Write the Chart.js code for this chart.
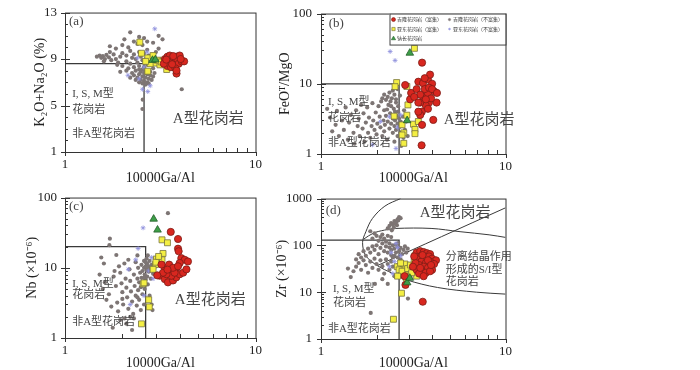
<!DOCTYPE html>
<html lang="zh">
<head>
<meta charset="utf-8">
<title>10000Ga/Al discrimination diagrams</title>
<script src="https://cdn.jsdelivr.net/npm/chart.js@4.4.1/dist/chart.umd.min.js"></script>
<style>
  body { margin: 0; background: #fff; }
  #wrap { position: relative; width: 700px; height: 370px; overflow: hidden; }
  #wrap canvas { position: absolute; }
</style>
</head>
<body>
<div id="wrap">
  <canvas id="chartA" width="270" height="185" style="left:0;top:0"></canvas>
  <canvas id="chartB" width="250" height="185" style="left:270px;top:0"></canvas>
  <canvas id="chartC" width="270" height="185" style="left:0;top:185px"></canvas>
  <canvas id="chartD" width="250" height="185" style="left:270px;top:185px"></canvas>
</div>
<script>
// legend names, same order as the legend box in (b)
const seriesNames = ["吉隆花岗岩（富集）", "吉隆花岗岩（不富集）", "亚东花岗岩（富集）", "亚东花岗岩（不富集）", "钠长花岗岩"];

// tick labels
const xTickValues = [1, 10];
const aYTicks = [1, 5, 9, 13];
const bYTicks = [1, 10, 100];
const cYTicks = [1, 10, 100];
const dYTicks = [1, 10, 100, 1000];

// (a) K2O+Na2O vs 10000Ga/Al
const aJilongRich = [[3.35,9.0],[3.4,8.7],[3.45,9.2],[3.5,8.9],[3.55,8.6],[3.6,9.1],[3.65,8.8],[3.7,8.5],[3.75,9.0],[3.8,8.7],[3.85,9.2],[3.9,8.9],[3.95,8.6],[4.0,9.3],[4.1,8.8],[4.22,8.8],[3.45,8.4],[3.6,8.3],[3.8,8.2],[3.85,7.75],[3.85,8.0],[3.55,9.3],[3.3,8.6],[3.7,9.25],[4.05,9.0],[3.4,8.95],[3.65,8.55]];
const aJilongPoor = [[1.47,9.2],[1.52,9.3],[1.55,9.1],[1.58,9.25],[1.62,9.0],[1.65,9.35],[1.7,9.15],[1.75,8.9],[1.6,8.8],[1.8,9.4],[1.85,9.0],[1.9,8.7],[1.95,9.2],[1.72,9.6],[1.88,8.5],
  [2.2,11.3],[2.05,10.7],[2.3,10.5],[2.45,10.9],[2.6,10.8],[3.25,10.7],[3.1,11.0],[1.72,10.1],[1.85,9.9],[2.0,10.2],[2.15,10.0],[2.4,10.3],[2.55,10.2],[2.7,10.5],[2.9,10.4],
  [2.0,9.5],[2.1,9.3],[2.2,9.7],[2.3,9.4],[2.35,9.0],[2.45,9.6],[2.5,9.2],[2.6,9.5],[2.7,9.8],[2.1,8.8],[2.2,8.6],[2.25,9.1],[2.4,8.7],[2.55,8.9],[2.65,9.0],[2.75,9.3],[2.0,8.4],[2.15,8.2],[2.3,8.3],[2.45,8.1],[2.6,8.3],[1.95,7.9],[2.1,8.0],[2.25,7.8],
  [2.3,7.6],[2.35,8.0],[2.4,7.4],[2.45,7.7],[2.5,7.9],[2.5,7.2],[2.55,7.5],[2.6,7.8],[2.6,7.1],[2.65,7.4],[2.7,7.7],[2.7,7.0],[2.75,7.3],[2.8,7.6],[2.8,7.9],[2.85,7.2],[2.9,7.5],[2.9,8.2],[2.55,6.9],[2.65,6.8],[2.75,6.9],[2.45,8.4],[2.7,8.5],[2.85,8.6],[2.95,7.8],[2.55,8.1],[2.35,7.2],[2.2,7.4],[2.45,7.0],
  [2.56,5.5],[2.55,4.7],[4.1,6.4],[3.0,9.6],[3.1,9.9]];
const aYadongRich = [[2.47,10.45],[2.52,9.5],[2.72,9.1],[2.72,7.95],[2.97,8.65],[3.15,8.5],[3.42,8.1],[3.27,8.9],[2.9,9.3],[2.8,8.6],[3.05,8.9],[3.2,8.75],[2.65,8.8]];
const aYadongPoor = [[2.96,11.6],[2.14,7.6],[2.72,6.2],[2.6,8.3],[2.7,9.6],[2.45,7.3],[2.8,6.7],[2.4,9.1],[2.55,6.4]];
const aAlbite = [[2.88,8.9],[2.98,8.95]];
const aBoundary = [[1,8.6],[2.6,8.6],[2.6,1]];

// (b) FeOT/MgO vs 10000Ga/Al
const bJilongRich = [[3.53,20],[2.86,9.6],[3.04,6.0],[3.08,7.4],[3.37,10.7],[3.57,10.2],[3.8,11.5],[3.9,13.5],[4.0,10],[4.1,7.8],[4.23,5.4],[3.85,5.4],[3.7,4.9],[3.45,5.4],[3.52,4.0],[3.45,3.6],[3.57,6.7],[3.8,7.3],[3.65,8.4],[3.3,8.4],[3.45,7.0],[3.95,6.2],[3.7,6.0],[4.06,3.06],[3.51,1.33],[3.53,2.6],[3.37,4.0],[3.2,6.5],[3.85,8.8],[4.0,8.4],[4.25,7.4],[3.8,4.4],[3.37,5.4],[3.65,12]];
const bJilongPoor = [[1.08,4.4],[1.12,3.3],[1.15,2.1],[1.2,2.6],[1.22,4.1],[1.25,1.8],[1.3,3.0],[1.33,2.2],[1.36,4.6],[1.4,1.6],[1.42,2.8],[1.45,3.6],[1.5,2.0],[1.52,1.4],[1.55,4.2],[1.58,2.5],[1.6,3.2],[1.62,1.8],[1.65,5.0],[1.68,2.3],[1.7,3.8],[1.72,1.5],
  [1.75,2.8],[1.78,4.6],[1.8,2.0],[1.82,3.3],[1.85,1.7],[1.88,2.5],[1.9,5.3],[1.92,3.0],[1.95,2.2],[1.98,3.9],[2.0,1.9],[2.02,2.7],[2.05,4.8],[2.08,3.4],[2.1,2.4],[2.12,5.6],[2.15,1.8],[2.18,3.0],[2.2,4.2],[2.2,2.1],
  [2.22,2.6],[2.25,3.5],[2.28,1.6],[2.3,2.9],[2.32,5.0],[2.35,2.3],[2.37,3.8],[2.4,2.7],[2.42,6.2],[2.45,2.0],[2.45,3.2],[2.48,4.4],[2.5,2.5],[2.5,1.5],[2.52,3.0],[2.55,2.2],[2.55,5.4],[2.57,3.5],[2.6,2.7],[2.6,1.8],[2.62,4.0],[2.65,2.4],[2.65,3.2],[2.68,6.8],[2.7,2.9],[2.7,2.0],[2.3,6.5],[2.2,7.0],[2.35,7.5],[2.45,8.0],[2.5,7.0],[2.55,6.0],[2.6,8.4],[2.38,5.6],[2.25,5.9],[2.15,6.2],[2.4,4.8],[2.28,4.3],[2.52,4.0],[2.62,4.8],
  [2.75,2.5],[2.78,3.4],[2.8,1.7],[2.85,2.2],[2.9,2.9],[2.72,1.3],[2.95,1.8],[2.82,4.2]];
const bYadongRich = [[2.57,10.4],[2.52,9.1],[2.92,9.16],[2.96,5.0],[2.49,3.46],[2.92,3.57],[2.75,2.6],[2.81,2.0],[3.17,2.66],[3.37,2.9],[3.23,2.24],[3.23,1.95],[2.81,1.42],[2.75,1.87],[3.21,32]];
const bYadongPoor = [[2.37,28.8],[2.52,21.5],[2.55,1.2],[2.35,3.4],[2.6,2.4],[2.1,2.9],[2.7,3.6],[1.9,1.35]];
const bAlbite = [[3.03,27.4],[2.93,3.0]];
const bBoundary = [[1,10],[2.65,10],[2.65,1]];

// (c) Nb vs 10000Ga/Al
const cJilongRich = [[3.59,32.4],[3.92,25.7],[3.92,18.7],[3.95,17.2],[4.08,13.7],[4.25,13],[4.0,11.7],[3.84,10],[3.55,9.0],[3.34,10],[3.21,11.1],[3.14,7.7],[3.34,6.9],[3.47,6.2],[3.69,6.6],[3.84,7.3],[4.0,8.1],[4.17,8.5],[3.62,7.7],[3.76,8.5],[3.41,8.1],[3.27,8.5],[3.52,11.1],[3.69,10],[3.92,10.5],[4.34,9.5],[4.42,12.3],[3.45,9.4],[3.05,7.8]];
const cJilongPoor = [[1.52,8.0],[1.55,14],[1.6,11.5],[1.72,26],[1.71,21],[1.86,15.2],[1.62,6.2],[1.58,5.0],[1.65,3.5],[1.7,4.2],[1.75,2.8],[1.78,1.4],[1.8,7.5],[1.85,5.5],[1.88,3.2],[1.9,2.4],[1.95,8.5],[1.98,6.0],[2.0,4.5],[2.02,3.0],[2.05,1.9],[2.08,7.0],[2.1,5.2],[2.12,3.8],[2.15,2.6],[2.18,9.5],[2.2,6.5],[2.22,4.6],[2.25,3.3],[2.25,1.3],[2.28,2.2],[2.3,8.0],[2.32,5.5],[2.35,4.0],[2.35,12],[2.38,2.9],[2.4,7.0],[2.42,10],[2.42,4.8],[2.45,3.5],[2.45,6.2],[2.48,8.5],[2.5,5.3],[2.5,2.5],[2.52,11],[2.52,7.2],[2.55,4.2],[2.55,9.0],[2.58,6.0],[2.6,12.5],[2.6,3.0],[2.62,8.0],[2.62,5.0],[2.65,10.5],[2.65,6.8],[2.68,9.2],[2.68,13.5],[2.7,7.5],[2.7,11.5],[2.72,5.8],[2.72,15],[2.75,8.8],[2.75,10.5],[2.78,12.5],[2.8,9.5],[2.82,7.0],[2.85,11],[2.88,2.5],[2.9,8.2],[2.95,10],[3.47,60],[2.4,15],[1.92,10.5],[2.05,11.5],[1.82,9.0],[2.15,13],[2.3,1.9],[2.1,1.6],[1.95,1.8],[2.4,3.8],[2.55,1.6],[2.78,4.0],[2.85,3.0],[2.0,3.6],[2.2,2.0],[2.6,7.2],[2.65,12],[2.7,10],[2.6,10]];
const cYadongRich = [[3.23,25],[3.45,22.7],[3.27,16],[3.23,13],[3.02,13.3],[2.98,11.1],[2.9,9.5],[2.57,5.9],[2.6,6.1],[2.75,3.5],[2.77,2.77],[2.52,1.59],[3.0,12],[3.1,14.5]];
const cYadongPoor = [[2.57,37],[2.42,18.8],[2.15,9.5],[2.75,9],[2.35,13],[2.85,14],[2.6,4],[2.2,3],[2.9,7]];
const cAlbite = [[2.92,49.5],[3.06,34.6]];
const cBoundary = [[1,20],[2.65,20],[2.65,1]];

// (d) Zr vs 10000Ga/Al
const dJilongRich = [[3.3,70],[3.45,75],[3.6,72],[3.75,68],[3.9,65],[3.5,60],[3.65,55],[3.85,58],[4.0,52],[4.2,48],[3.35,50],[3.5,45],[3.7,42],[3.9,45],[4.1,40],[3.4,38],[3.6,35],[3.8,33],[4.0,30],[3.3,30],[3.5,28],[3.7,26],[3.9,28],[3.25,42],[3.4,25],[3.6,22],[3.55,62],[3.8,48],[2.84,22],[2.87,14.3],[3.56,6.25],[3.2,58],[3.95,38],[3.15,35],[3.45,33]];
const dJilongPoor = [[2.3,230],[2.35,260],[2.4,300],[2.45,280],[2.5,330],[2.55,310],[2.6,360],[2.65,400],[2.7,380],[2.58,270],[2.48,240],[2.42,210],[2.62,340],[2.52,290],
  [1.85,200],[1.95,180],[2.0,160],[2.1,150],[2.15,170],[2.2,140],[1.9,140],[2.05,125],[2.25,120],[2.3,160],[2.4,150],[2.35,110],
  [1.6,65],[1.65,55],[1.7,75],[1.75,60],[1.8,85],[1.85,70],[1.9,95],[1.95,80],[2.0,100],[2.05,65],[2.1,88],[2.15,110],[2.2,75],[2.25,95],[2.3,70],[2.35,90],[2.4,80],[2.45,100],[2.5,85],[2.55,70],[2.6,95],[2.65,75],[2.7,88],[2.75,65],[2.8,80],[2.85,95],[2.9,70],[2.95,85],[2.5,60],[2.45,55],[2.6,55],[2.7,50],[2.4,62],[2.55,105],[2.62,112],
  [1.45,21],[1.5,28],[1.55,35],[1.6,42],[1.65,30],[1.7,48],[1.75,38],[1.8,26],[1.85,45],[1.9,33],[1.95,52],[2.0,40],[2.05,30],[2.1,48],[2.15,36],[2.2,25],[2.25,50],[2.3,40],[2.35,30],[2.4,45],[2.45,35],[1.96,15],[2.3,15],[2.15,19],[2.5,22],[2.6,38],[2.7,30],[2.8,42],[2.9,36],
  [1.86,3.6],[2.96,7.3],[1.55,50],[1.4,32]];
const dYadongRich = [[2.47,2.64],[2.73,9.5],[3.23,60],[2.59,35],[2.81,35],[2.86,25.6],[3.3,22],[2.65,30],[2.75,28],[2.85,40],[2.95,32],[3.05,38],[3.15,30],[2.6,22],[3.0,22],[3.2,45],[2.9,20],[3.1,26],[2.7,42]];
const dYadongPoor = [[2.4,70],[2.5,45],[2.6,90],[2.35,35],[2.7,60],[2.55,110],[2.45,25],[2.65,30]];
const dAlbite = [[2.93,16],[3.03,20]];
const dBoundary = [[1,130],[2.65,130],[2.65,1]];
const dOuterCurve = [[2.7,1000],[2.22,690],[1.9,375],[1.75,195],[1.68,115],[1.75,60],[2.02,37],[2.42,25.6],[2.9,18.4],[4.28,12.6],[6.95,10],[10,9.1]];
const dInnerCurve = [[1.7,135],[1.92,182],[2.21,212],[2.54,230],[3.95,230],[5.67,196],[8.15,168],[10,148]];
const dDiagLine = [[2.02,37],[10,634]];

const serif = '"Liberation Serif", "Noto Sans CJK SC", serif';
const cjk = '"Liberation Serif", "Noto Sans CJK SC", sans-serif';

// marker looks for each series (index matches seriesNames)
const markStyles = [
  { pointStyle: "circle", radius: 3.6, bg: "#d8271f", border: "#7c1d16", bw: 0.8 },
  { pointStyle: "circle", radius: 2.1, bg: "#7d7574", border: "#7d7574", bw: 0 },
  { pointStyle: "rect", radius: 4.2, bg: "#f4ef43", border: "#77733d", bw: 0.8 },
  { pointStyle: "star", radius: 2.4, bg: "#8f90dd", border: "#8f90dd", bw: 0.8 },
  { pointStyle: "triangle", radius: 4.4, bg: "#3d9e48", border: "#245e2a", bw: 0.8 },
];

function xy(list) {
  return list.map(([x, y]) => ({ x: x, y: y }));
}

function pointSet(idx, list) {
  const s = markStyles[idx];
  return {
    label: seriesNames[idx],
    data: xy(list),
    pointStyle: s.pointStyle,
    pointRadius: s.radius,
    pointBackgroundColor: s.bg,
    pointBorderColor: s.border,
    pointBorderWidth: s.bw,
    showLine: false,
  };
}

// straight boundaries use tension 0, the curved field lines a little smoothing
function lineSet(list, width, tension) {
  return {
    label: "",
    data: xy(list),
    showLine: true,
    borderColor: "#3a3a3a",
    borderWidth: width,
    pointRadius: 0,
    fill: false,
    tension: tension,
  };
}

// frame, inward minor ticks and short outward major ticks
const frameTicks = {
  id: "frameTicks",
  afterDatasetsDraw(chart) {
    const { ctx, chartArea: a, scales } = chart;
    const x = scales.x, y = scales.y;
    ctx.save();
    ctx.strokeStyle = "#333";
    ctx.lineWidth = 1;
    ctx.strokeRect(a.left + 0.5, a.top + 0.5, a.right - a.left, a.bottom - a.top);
    ctx.beginPath();
    for (let v = 2; v < 10; v++) {
      const px = Math.round(x.getPixelForValue(v)) + 0.5;
      ctx.moveTo(px, a.bottom);
      ctx.lineTo(px, a.bottom - 4);
    }
    xTickValues.forEach((v) => {
      const px = Math.round(x.getPixelForValue(v)) + 0.5;
      ctx.moveTo(px, a.bottom);
      ctx.lineTo(px, a.bottom + 4);
    });
    if (y.type === "logarithmic") {
      for (let d = y.min; d < y.max; d *= 10) {
        for (let k = 2; k < 10; k++) {
          const py = Math.round(y.getPixelForValue(k * d)) + 0.5;
          ctx.moveTo(a.left, py);
          ctx.lineTo(a.left + 3, py);
        }
      }
    } else {
      for (let v = y.min + 1; v < y.max; v++) {
        const py = Math.round(y.getPixelForValue(v)) + 0.5;
        ctx.moveTo(a.left, py);
        ctx.lineTo(a.left + 3, py);
      }
    }
    y.ticks.forEach((t) => {
      const py = Math.round(y.getPixelForValue(t.value)) + 0.5;
      ctx.moveTo(a.left - 4, py);
      ctx.lineTo(a.left + 5, py);
    });
    ctx.stroke();
    ctx.restore();
  },
};

// text placed at data coordinates
const notes = {
  id: "notes",
  afterDatasetsDraw(chart, args, opts) {
    const { ctx, scales } = chart;
    ctx.save();
    ctx.fillStyle = "#454545";
    ctx.textAlign = "left";
    ctx.textBaseline = "middle";
    (opts.items || []).forEach((n) => {
      ctx.font = n.size + "px " + (n.family || cjk);
      ctx.fillText(n.text, scales.x.getPixelForValue(n.x), scales.y.getPixelForValue(n.y));
    });
    ctx.restore();
  },
};

// legend box in the top right corner of (b)
const boxLegend = {
  id: "boxLegend",
  afterDraw(chart, args, opts) {
    if (!opts.show) return;
    const { ctx, chartArea: a } = chart;
    const w = 116, h = 31;
    const left = a.right - w, top = a.top;
    ctx.save();
    ctx.fillStyle = "#fff";
    ctx.fillRect(left, top, w, h);
    ctx.strokeStyle = "#444";
    ctx.lineWidth = 1;
    ctx.strokeRect(left + 0.5, top + 0.5, w, h);
    const cells = [[0, 4, 6], [1, 60, 6], [2, 4, 15.5], [3, 60, 15.5], [4, 4, 25]];
    cells.forEach(([i, dx, dy]) => {
      const s = markStyles[i];
      const mx = left + dx, my = top + dy;
      ctx.fillStyle = s.bg;
      ctx.strokeStyle = s.border;
      ctx.lineWidth = 0.6;
      Chart.helpers.drawPoint(ctx, { pointStyle: s.pointStyle, radius: s.radius * 0.55, rotation: 0, borderWidth: 0.6 }, mx, my);
      ctx.fillStyle = "#333";
      ctx.font = '5px "Noto Sans CJK SC", sans-serif';
      ctx.textAlign = "left";
      ctx.textBaseline = "middle";
      ctx.fillText(seriesNames[i], mx + 3.5, my);
    });
    ctx.restore();
  },
};

function makeChart(id, p) {
  const datasets = [
    pointSet(4, p.albite),
    pointSet(0, p.jilongRich),
    pointSet(2, p.yadongRich),
    pointSet(3, p.yadongPoor),
    pointSet(1, p.jilongPoor),
    lineSet(p.boundary, 1.3, 0),
  ];
  (p.curves || []).forEach((c) => datasets.push(lineSet(c, 1, 0.35)));

  return new Chart(document.getElementById(id), {
    type: "scatter",
    data: { datasets: datasets },
    options: {
      responsive: false,
      animation: false,
      devicePixelRatio: 1,
      layout: { padding: { top: p.padTop, right: p.padRight, bottom: 0, left: 0 } },
      plugins: {
        legend: { display: false },
        tooltip: { enabled: false },
        notes: { items: p.notes },
        boxLegend: { show: !!p.legend },
      },
      scales: {
        x: {
          type: "logarithmic",
          min: 1,
          max: 10,
          afterBuildTicks: (s) => { s.ticks = xTickValues.map((v) => ({ value: v })); },
          afterFit: (s) => { s.height = p.xHeight; },
          grid: { display: false, drawTicks: false },
          border: { display: false },
          ticks: {
            padding: 8,
            color: "#222",
            maxRotation: 0,
            autoSkip: false,
            font: { family: serif, size: 13, lineHeight: 0.7 },
            callback: (v) => String(v),
          },
          title: {
            display: true,
            text: "10000Ga/Al",
            color: "#222",
            padding: 0,
            font: { family: serif, size: 14, lineHeight: 1 },
          },
        },
        y: {
          type: p.yType,
          min: p.yTicks[0],
          max: p.yTicks[p.yTicks.length - 1],
          afterBuildTicks: (s) => { s.ticks = p.yTicks.map((v) => ({ value: v })); },
          afterFit: (s) => { s.width = p.yWidth; },
          grid: { display: false, drawTicks: false },
          border: { display: false },
          ticks: {
            padding: p.yTickPad,
            color: "#222",
            autoSkip: false,
            font: { family: serif, size: 13, lineHeight: 0.7 },
            callback: (v) => String(v),
          },
          title: {
            display: true,
            text: p.yTitle,
            color: "#222",
            padding: { top: p.yTitlePad, bottom: 0 },
            font: { family: serif, size: 14, lineHeight: 1 },
          },
        },
      },
    },
    plugins: [frameTicks, notes, boxLegend],
  });
}

makeChart("chartA", {
  jilongRich: aJilongRich, jilongPoor: aJilongPoor, yadongRich: aYadongRich, yadongPoor: aYadongPoor, albite: aAlbite,
  boundary: aBoundary,
  yType: "linear", yTicks: aYTicks, yTitle: "K₂O+Na₂O (%)",
  yWidth: 65, yTickPad: 8, yTitlePad: 33, xHeight: 33, padTop: 5, padRight: 14,
  notes: [
    { text: "(a)", x: 1.05, y: 12.2, size: 13, family: serif },
    { text: "I, S, M型", x: 1.09, y: 5.98, size: 11 },
    { text: "花岗岩", x: 1.09, y: 4.6, size: 11 },
    { text: "非A型花岗岩", x: 1.09, y: 2.55, size: 11 },
    { text: "A型花岗岩", x: 3.68, y: 3.86, size: 15 },
  ],
});

makeChart("chartB", {
  jilongRich: bJilongRich, jilongPoor: bJilongPoor, yadongRich: bYadongRich, yadongPoor: bYadongPoor, albite: bAlbite,
  boundary: bBoundary,
  yType: "logarithmic", yTicks: bYTicks, yTitle: "FeOᵀ/MgO",
  yWidth: 51, yTickPad: 9, yTitlePad: 8, xHeight: 31, padTop: 7, padRight: 8,
  legend: true,
  notes: [
    { text: "(b)", x: 1.1, y: 71, size: 13, family: serif },
    { text: "I, S, M型", x: 1.09, y: 5.4, size: 11 },
    { text: "花岗岩", x: 1.09, y: 3.2, size: 11 },
    { text: "非A型花岗岩", x: 1.09, y: 1.41, size: 11 },
    { text: "A型花岗岩", x: 4.62, y: 3.0, size: 15 },
  ],
});

makeChart("chartC", {
  jilongRich: cJilongRich, jilongPoor: cJilongPoor, yadongRich: cYadongRich, yadongPoor: cYadongPoor, albite: cAlbite,
  boundary: cBoundary,
  yType: "logarithmic", yTicks: cYTicks, yTitle: "Nb (×10⁻⁶)",
  yWidth: 65, yTickPad: 8, yTitlePad: 25, xHeight: 32, padTop: 7, padRight: 14,
  notes: [
    { text: "(c)", x: 1.05, y: 74, size: 13, family: serif },
    { text: "I, S, M型", x: 1.09, y: 5.9, size: 11 },
    { text: "花岗岩", x: 1.09, y: 4.1, size: 11 },
    { text: "非A型花岗岩", x: 1.09, y: 1.67, size: 11 },
    { text: "A型花岗岩", x: 3.77, y: 3.5, size: 15 },
  ],
});

makeChart("chartD", {
  jilongRich: dJilongRich, jilongPoor: dJilongPoor, yadongRich: dYadongRich, yadongPoor: dYadongPoor, albite: dAlbite,
  boundary: dBoundary,
  curves: [dOuterCurve, dInnerCurve, dDiagLine],
  yType: "logarithmic", yTicks: dYTicks, yTitle: "Zr (×10⁻⁶)",
  yWidth: 51, yTickPad: 9, yTitlePad: 5, xHeight: 31, padTop: 7, padRight: 8,
  notes: [
    { text: "(d)", x: 1.06, y: 543, size: 13, family: serif },
    { text: "A型花岗岩", x: 3.43, y: 501, size: 15 },
    { text: "分离结晶作用", x: 4.74, y: 56, size: 11 },
    { text: "形成的S/I型", x: 4.74, y: 30, size: 11 },
    { text: "花岗岩", x: 4.74, y: 16.8, size: 11 },
    { text: "I, S, M型", x: 1.16, y: 11.7, size: 11 },
    { text: "花岗岩", x: 1.16, y: 5.8, size: 11 },
    { text: "非A型花岗岩", x: 1.09, y: 1.65, size: 11 },
  ],
});
</script>
</body>
</html>
